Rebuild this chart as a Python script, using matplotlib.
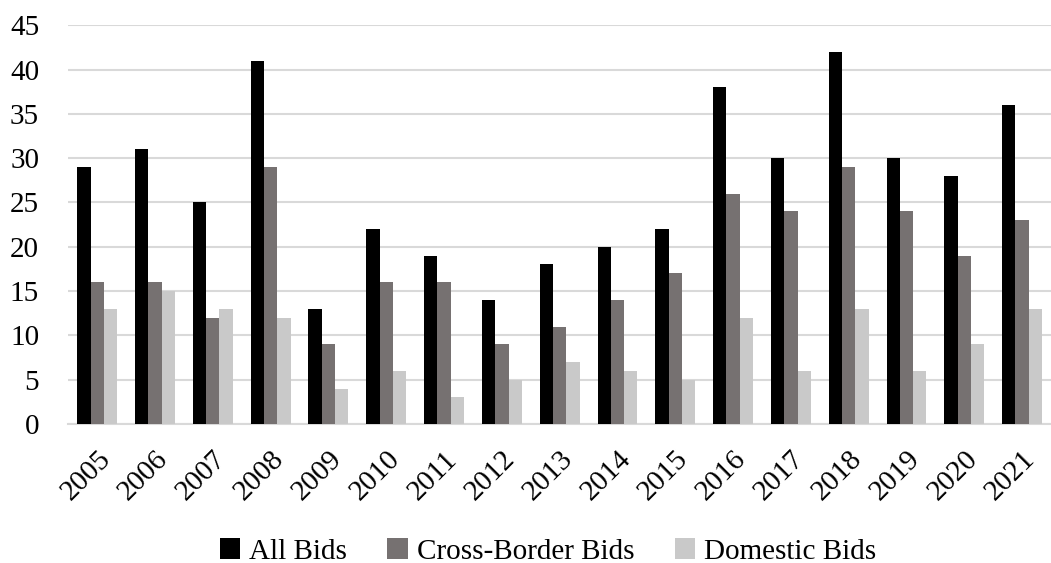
import matplotlib
matplotlib.use("Agg")
import matplotlib.pyplot as plt
import numpy as np

years = [str(y) for y in range(2005, 2022)]
all_bids = [29, 31, 25, 41, 13, 22, 19, 14, 18, 20, 22, 38, 30, 42, 30, 28, 36]
cross_border = [16, 16, 12, 29, 9, 16, 16, 9, 11, 14, 17, 26, 24, 29, 24, 19, 23]
domestic = [13, 15, 13, 12, 4, 6, 3, 5, 7, 6, 5, 12, 6, 13, 6, 9, 13]

series = [
    ("All Bids", all_bids, "#000000"),
    ("Cross-Border Bids", cross_border, "#767171"),
    ("Domestic Bids", domestic, "#C9C9C9"),
]

plt.rcParams["font.family"] = ["Liberation Serif", "DejaVu Serif"]

fig = plt.figure(figsize=(10.51, 5.63), dpi=100)
ax = fig.add_axes([0.065, 0.247, 0.935, 0.708])

x = np.arange(len(years))
w = 0.23
for i, (name, vals, color) in enumerate(series):
    ax.bar(x + (i - 1) * w, vals, width=w, color=color, label=name, zorder=3)

ax.set_xlim(-0.5, len(years) - 0.5)
ax.set_ylim(0, 45)
ax.set_yticks(range(0, 46, 5))
ax.yaxis.grid(True, color="#D9D9D9", linewidth=1.5, zorder=0)
for s in ["top", "right", "left"]:
    ax.spines[s].set_visible(False)
ax.spines["bottom"].set_color("#D9D9D9")
ax.spines["bottom"].set_linewidth(1.5)
ax.tick_params(axis="both", length=0, labelsize=21, colors="#000000")
ax.tick_params(axis="y", pad=21)
ax.tick_params(axis="x", pad=16)
ax.set_xticks(x)
ax.set_xticklabels(years, rotation=45, ha="right", rotation_mode="anchor")

leg = ax.legend(loc="center", bbox_to_anchor=(0.488, -0.32), ncol=3,
                frameon=False, fontsize=21, handlelength=0.7, handleheight=0.7,
                handletextpad=0.3, columnspacing=1.4)

fig.savefig("out.png", dpi=100)
